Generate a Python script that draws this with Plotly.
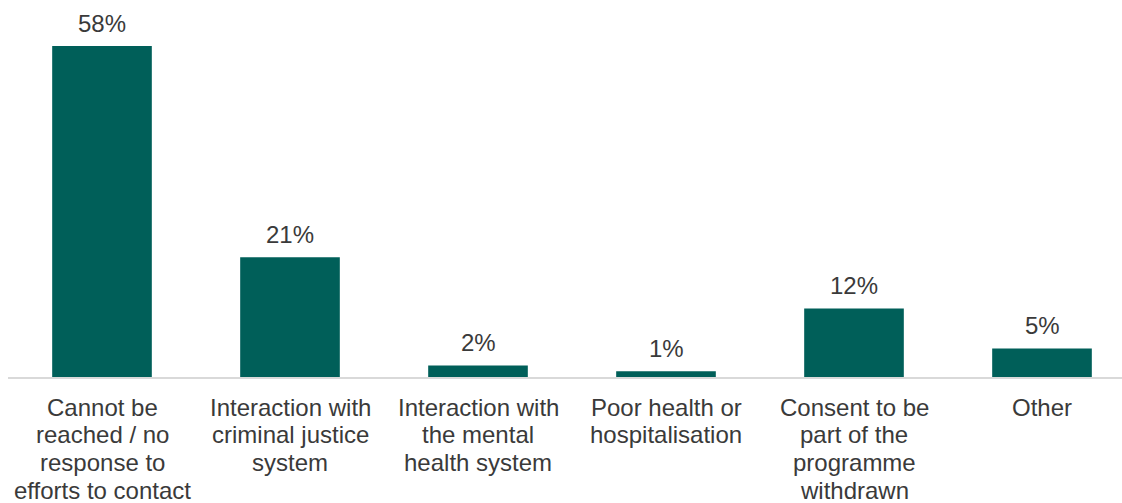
import plotly.graph_objects as go

# Reasons for leaving the programme (share of participants, %)
categories = [
    "Cannot be<br>reached / no<br>response to<br>efforts to contact",
    "Interaction with<br>criminal justice<br>system",
    "Interaction with<br>the mental<br>health system",
    "Poor health or<br>hospitalisation",
    "Consent to be<br>part of the<br>programme<br>withdrawn",
    "Other",
]
values = [58, 21, 2, 1, 12, 5]
value_labels = ["58%", "21%", "2%", "1%", "12%", "5%"]

BAR_COLOR = "#005f59"
TEXT_COLOR = "#3a3a3a"
FONT = "Liberation Sans, Arial, sans-serif"
FONT_SIZE = 25
LINE_STEP = 27.7

x_keys = [c.replace("<br>", " ") for c in categories]

fig = go.Figure(
    go.Bar(
        x=x_keys,
        y=values,
        marker=dict(color=BAR_COLOR, line=dict(width=0)),
        hoverinfo="skip",
    )
)

annotations = []
# value labels above each bar
for key, v, lab in zip(x_keys, values, value_labels):
    annotations.append(dict(
        x=key, y=v, xref="x", yref="y", text=lab, showarrow=False,
        yanchor="middle", yshift=23,
        font=dict(family=FONT, size=FONT_SIZE - 1, color=TEXT_COLOR),
    ))
# category labels, one line at a time for tighter line spacing
for key, cat in zip(x_keys, categories):
    for i, line in enumerate(cat.split("<br>")):
        annotations.append(dict(
            x=key, y=0, xref="x", yref="paper", text=line, showarrow=False,
            yanchor="middle", yshift=-(30 + i * LINE_STEP),
            font=dict(family=FONT, size=FONT_SIZE - 1, color=TEXT_COLOR),
        ))

fig.update_layout(
    width=1122,
    height=503,
    margin=dict(l=8, r=0, t=0, b=126),
    paper_bgcolor="white",
    plot_bgcolor="white",
    bargap=0.47,
    showlegend=False,
    annotations=annotations,
    xaxis=dict(
        range=[-0.5, -0.5 + 1114 / 188],
        showticklabels=False,
        showline=True,
        linecolor="#d9d9d9",
        linewidth=2,
        ticks="",
        showgrid=False,
        zeroline=False,
    ),
    yaxis=dict(
        range=[0, 377 / (331 / 58)],
        visible=False,
        showgrid=False,
        zeroline=False,
    ),
)

fig.write_html("out.html")
